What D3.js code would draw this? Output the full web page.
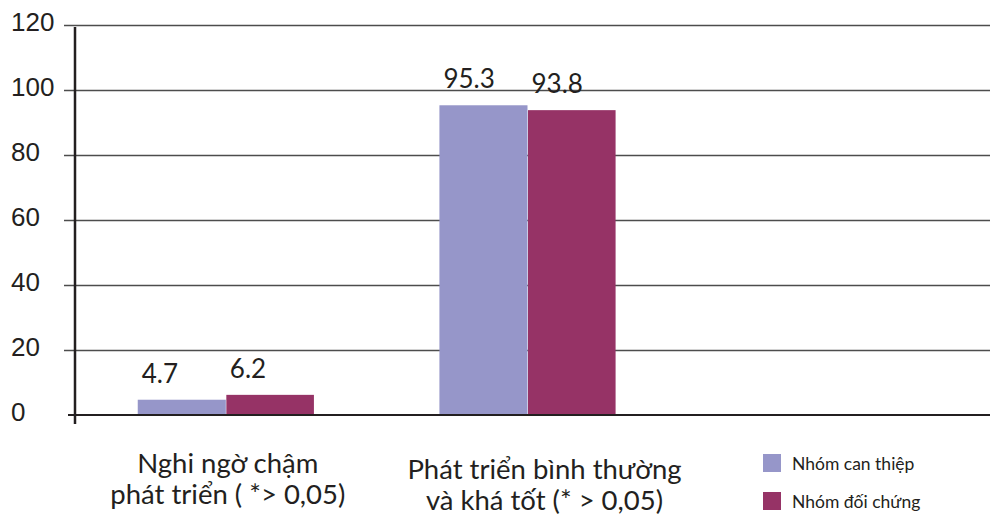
<!DOCTYPE html>
<html>
<head>
<meta charset="utf-8">
<script src="https://cdn.jsdelivr.net/npm/d3@7"></script>
<style>
  html, body { margin: 0; padding: 0; background: #fff; }
  svg { display: block; font-family: Lato, "Noto Sans", sans-serif; }
</style>
</head>
<body>
<svg id="chart" width="990" height="515"></svg>
<script>
// Categories on the x axis (third slot is left empty for the legend)
const categories = ["cham", "binhthuong", "empty"];
const categoryLines = [
  ["Nghi ngờ chậm", "phát triển ( *> 0,05)"],
  ["Phát triển bình thường", "và khá tốt (* > 0,05)"],
  []
];
const seriesNames = ["Nhóm can thiệp", "Nhóm đối chứng"];
const interventionValues = [4.7, 95.3];
const controlValues = [6.2, 93.8];
const yTicks = [0, 20, 40, 60, 80, 100, 120];

const colors = ["#9696c9", "#963366"];
const ink = "#231f20";

// Small hand placement tweaks for the two-line category captions
const captionShift = [{ dx: 2, dy: 0 }, { dx: 17, dy: 6 }, { dx: 0, dy: 0 }];

const svg = d3.select("#chart");

const y = d3.scaleLinear().domain([0, 120]).range([415, 25]);
const x0 = d3.scaleBand().domain(categories).range([75, 980])
  .paddingInner(0.416).paddingOuter(0.208);
const x1 = d3.scaleBand().domain(seriesNames).range([0, x0.bandwidth()]);

// Horizontal gridlines with left-aligned tick labels
const yAxis = d3.axisLeft(y).tickValues(yTicks).tickSize(-(990 - 64)).tickFormat(d3.format("d"));
const gy = svg.append("g").attr("transform", "translate(64,0)").call(yAxis);
gy.select(".domain").remove();
gy.selectAll(".tick line").attr("stroke", "#4d4d4d").attr("stroke-width", 1.4);
gy.selectAll(".tick text")
  .attr("x", 11 - 64).attr("dy", null).attr("y", 5)
  .attr("text-anchor", "start")
  .attr("fill", ink).style("font-size", "26px");
gy.selectAll(".tick").filter(d => d === 0).select("line").attr("opacity", 0);

// Bars
const rows = categories.slice(0, 2).map((c, i) => ({
  cat: c,
  vals: [interventionValues[i], controlValues[i]]
}));

const groups = svg.append("g").selectAll("g").data(rows).join("g")
  .attr("transform", d => `translate(${x0(d.cat)},0)`);

groups.selectAll("rect")
  .data(d => d.vals.map((v, j) => ({ key: seriesNames[j], v, j })))
  .join("rect")
  .attr("x", d => x1(d.key) + (d.j === 1 ? 0.5 : 0))
  .attr("width", d => x1.bandwidth() - (d.j === 1 ? 0.5 : 0))
  .attr("y", d => y(d.v))
  .attr("height", d => y(0) - y(d.v))
  .attr("fill", d => colors[d.j]);

// Value labels above each bar
groups.selectAll("text.val")
  .data(d => d.vals.map((v, j) => ({ key: seriesNames[j], v, j })))
  .join("text")
  .attr("class", "val")
  .attr("x", d => x1(d.key) + 4)
  .attr("y", d => y(d.v) - 17)
  .attr("text-anchor", "start")
  .attr("fill", ink)
  .style("font-size", "26px")
  .text(d => d.v.toFixed(1));

// Zero baseline and vertical axis
svg.append("line")
  .attr("x1", 68).attr("x2", 990).attr("y1", y(0)).attr("y2", y(0))
  .attr("stroke", ink).attr("stroke-width", 2.2);
svg.append("line")
  .attr("x1", 75).attr("x2", 75).attr("y1", 27).attr("y2", 424)
  .attr("stroke", ink).attr("stroke-width", 2.5);

// Category labels (two lines each)
const catText = svg.append("g").selectAll("text")
  .data(categories.map((c, i) => ({ c, i, lines: categoryLines[i] })).filter(d => d.lines.length))
  .join("text")
  .attr("text-anchor", "middle")
  .attr("fill", ink)
  .style("font-size", "27.5px");
catText.selectAll("tspan").data(d => d.lines.map(l => ({ l, c: d.c, s: captionShift[d.i] })))
  .join("tspan")
  .attr("x", d => x0(d.c) + x0.bandwidth() / 2 + d.s.dx)
  .attr("y", (d, i) => 473 + d.s.dy + i * 31)
  .text(d => d.l);

// Legend
const legend = svg.append("g").attr("transform", "translate(763,0)");
const li = legend.selectAll("g").data(seriesNames).join("g")
  .attr("transform", (d, i) => `translate(0,${454 + i * 38})`);
li.append("rect").attr("width", 18).attr("height", 18)
  .attr("fill", (d, i) => colors[i]);
li.append("text").attr("x", 29).attr("y", 16)
  .attr("fill", ink).style("font-size", "17.5px")
  .text(d => d);
</script>
</body>
</html>
